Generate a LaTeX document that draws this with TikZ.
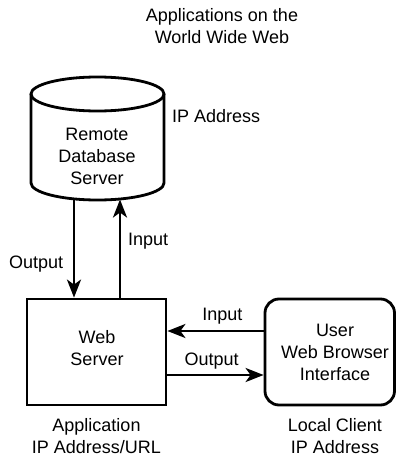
\documentclass[tikz,border=0pt]{standalone}
\usepackage{fontspec}
\setmainfont{Liberation Sans}
\usetikzlibrary{arrows.meta}
\begin{document}
\begin{tikzpicture}[x=1pt,y=-1pt,
  every node/.style={font=\fontsize{18}{22}\selectfont, align=center, inner sep=0pt},
  lbl/.style={anchor=base},
  line/.style={line width=2.8pt},
  arr/.style={line width=2.8pt, -{Stealth[length=18pt,width=14pt,inset=5pt]}},
  box/.style={draw, line width=2.8pt, minimum width=139pt, minimum height=106pt}]
\useasboundingbox (0,0) rectangle (396,458);
% title (base anchor = baseline of last line)
\node[lbl] (title) at (222,43.3) {Applications on the\\World Wide Web};
% database cylinder
\draw[line] (31,94) -- (31,183) arc[start angle=180,end angle=0,x radius=66.5,y radius=17] -- (164,94);
\draw[line] (97.5,94) ellipse [x radius=66.5, y radius=17];
\node[lbl] (db) at (97,184.3) {Remote\\Database\\Server};
\node[anchor=base west] (dbip) at (172,122) {IP Address};
\coordinate (dbout) at (74,199);
\coordinate (dbin) at (120,199.5);
% web server
\node[box] (web) at (96.5,352) {};
\node[lbl] (webtxt) at (97,365.7) {Web\\Server};
% user
\node[box, rounded corners=14pt, minimum width=129.5pt] (user) at (329.75,352) {};
\node[lbl] (usertxt) at (335,380) {User\\Web Browser\\Interface};
% vertical arrows
\draw[arr] (dbout) -- (dbout |- web.north);
\draw[arr] (web.north -| dbin) -- (dbin);
\node[anchor=base west] (lout1) at (9,268.3) {Output};
\node[anchor=base west] (lin1) at (128,245) {Input};
% horizontal arrows
\coordinate (yin) at (0,331);
\coordinate (yout) at (0,375);
\draw[arr] (user.west |- yin) -- (web.east |- yin);
\draw[arr] (web.east |- yout) -- (user.west |- yout);
\node[lbl] (lin2) at (222.3,320) {Input};
\node[lbl] (lout2) at (211.7,365) {Output};
% bottom labels
\node[lbl] (app) at (96.5,453.3) {Application\\IP Address/URL};
\node[lbl] (loc) at (335,453.3) {Local Client\\IP Address};
\end{tikzpicture}
\end{document}
